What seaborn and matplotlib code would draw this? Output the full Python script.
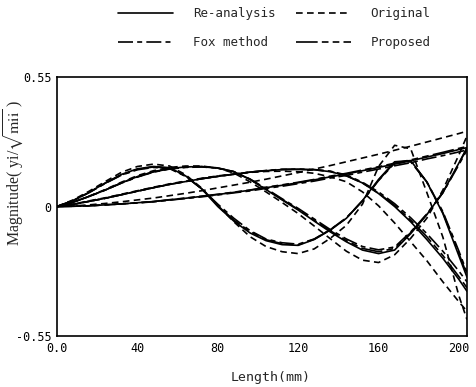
import numpy as np
import pandas as pd
import matplotlib
matplotlib.use("Agg")
import matplotlib.pyplot as plt
from matplotlib.lines import Line2D
import seaborn as sns

# Station positions along the beam (mm)
length = list(range(0, 201, 8)) + [204]

# Mode 1
m1_reanalysis = [0, .001, .003, .007, .011, .016, .021, .028, .035, .043, .051, .060, .069, .080, .090, .101, .113, .126, .138, .152, .166, .180, .194, .210, .225, .242, .250]
m1_original   = [0, .002, .007, .013, .020, .028, .036, .046, .056, .067, .079, .091, .103, .116, .130, .144, .159, .174, .190, .206, .222, .239, .256, .274, .292, .310, .320]
m1_fox        = [0, .001, .003, .007, .011, .015, .020, .027, .034, .041, .049, .058, .066, .077, .086, .097, .108, .121, .132, .146, .159, .173, .186, .202, .216, .232, .240]
m1_proposed   = [0, .001, .003, .007, .011, .016, .021, .029, .036, .044, .052, .061, .070, .082, .092, .103, .115, .129, .141, .155, .169, .184, .198, .214, .230, .247, .255]

# Mode 2
m2_reanalysis = [0, .009, .022, .035, .050, .065, .080, .094, .106, .118, .128, .137, .146, .152, .157, .158, .156, .148, .130, .100, .055, .000, -.065, -.140, -.220, -.310, -.360]
m2_original   = [0, .010, .024, .037, .052, .067, .082, .096, .108, .120, .130, .138, .145, .149, .150, .148, .141, .126, .105, .062, .003, -.070, -.150, -.230, -.320, -.405, -.445]
m2_fox        = [0, .009, .022, .035, .050, .065, .080, .094, .106, .118, .128, .137, .146, .153, .158, .159, .157, .150, .134, .103, .062, .012, -.048, -.115, -.190, -.275, -.320]
m2_proposed   = [0, .009, .022, .035, .050, .065, .080, .094, .106, .118, .128, .137, .146, .152, .157, .158, .156, .149, .131, .100, .057, .005, -.058, -.128, -.208, -.298, -.345]

# Mode 3
m3_reanalysis = [0, .018, .043, .070, .100, .127, .148, .161, .168, .170, .164, .148, .115, .072, .028, -.015, -.062, -.108, -.150, -.185, -.200, -.185, -.115, -.035, .060, .185, .250]
m3_original   = [0, .018, .044, .072, .103, .131, .152, .166, .172, .172, .163, .142, .105, .062, .017, -.030, -.083, -.137, -.190, -.228, -.238, -.205, -.135, -.050, .070, .220, .300]
m3_fox        = [0, .018, .043, .070, .099, .125, .146, .159, .166, .168, .163, .148, .117, .076, .033, -.008, -.053, -.098, -.138, -.170, -.184, -.172, -.108, -.032, .058, .178, .240]
m3_proposed   = [0, .018, .043, .070, .100, .126, .147, .160, .167, .169, .163, .148, .116, .074, .030, -.012, -.058, -.103, -.145, -.178, -.192, -.178, -.111, -.033, .059, .182, .248]

# Mode 4
m4_reanalysis = [0, .025, .060, .100, .136, .160, .170, .165, .130, .075, .000, -.062, -.112, -.145, -.162, -.165, -.140, -.100, -.050, .025, .115, .190, .195, .105, -.030, -.210, -.300]
m4_original   = [0, .028, .065, .106, .145, .170, .180, .172, .135, .078, .005, -.065, -.128, -.170, -.192, -.200, -.180, -.135, -.080, .010, .170, .260, .245, .060, -.130, -.380, -.480]
m4_fox        = [0, .025, .059, .098, .133, .156, .166, .161, .128, .075, .010, -.050, -.102, -.138, -.154, -.160, -.138, -.098, -.048, .024, .110, .184, .190, .105, -.022, -.190, -.280]
m4_proposed   = [0, .025, .060, .099, .134, .158, .168, .163, .129, .075, .005, -.058, -.106, -.141, -.158, -.163, -.139, -.099, -.049, .024, .112, .187, .192, .104, -.026, -.200, -.290]

methods = ["Re-analysis", "Original", "Fox method", "Proposed"]
modes = {
    "mode 1": [m1_reanalysis, m1_original, m1_fox, m1_proposed],
    "mode 2": [m2_reanalysis, m2_original, m2_fox, m2_proposed],
    "mode 3": [m3_reanalysis, m3_original, m3_fox, m3_proposed],
    "mode 4": [m4_reanalysis, m4_original, m4_fox, m4_proposed],
}

rows = []
for mode, series in modes.items():
    for method, vals in zip(methods, series):
        assert len(vals) == len(length)
        for xv, yv in zip(length, vals):
            rows.append({"x": xv, "y": yv, "method": method, "unit": f"{mode}-{method}"})
df = pd.DataFrame(rows)

sns.set_theme(style="white")
plt.rcParams["font.family"] = ["DejaVu Sans Mono"]
plt.rcParams["mathtext.fontset"] = "stix"

dash_map = {
    "Re-analysis": "",
    "Original": (4, 2.6),
    "Fox method": (9, 2.5, 3, 2.5),
    "Proposed": (13, 2.5, 4, 2.5, 4, 2.5),
}

fig = plt.figure(figsize=(4.77, 3.87), dpi=100)
ax = fig.add_axes([0.1195, 0.1318, 0.8595, 0.6692])

sns.lineplot(data=df, x="x", y="y", style="method", units="unit", estimator=None,
             dashes=dash_map, color="black", linewidth=1.2, sort=False,
             legend=False, ax=ax)

ax.set_xlim(0, 204)
ax.set_ylim(-0.55, 0.55)
ax.set_xticks([0, 40, 80, 120, 160, 200])
ax.set_xticklabels(["0.0", "40", "80", "120", "160", "200"])
ax.set_xticks(np.arange(20, 201, 40), minor=True)
ax.set_yticks([-0.55, 0, 0.55])
ax.set_yticklabels(["-0.55", "0", "0.55"])
ax.set_yticks([-0.275, 0.275], minor=True)
ax.tick_params(which="both", direction="in", length=3, width=1, colors="black",
               labelsize=8.5, pad=4)
ax.tick_params(which="minor", length=2)
for sp in ax.spines.values():
    sp.set_color("black")
    sp.set_linewidth(1.2)

ax.set_xlabel("Length(mm)", fontsize=9.5)
ax.xaxis.set_label_coords(0.52, -0.135)
ax.set_ylabel(r"Magnitude( yi/$\sqrt{\mathrm{mii}}$ )", fontsize=11.5,
              family=["Liberation Serif", "DejaVu Serif"])
ax.yaxis.set_label_coords(-0.075, 0.63)

# legend rows: Re-analysis / Original, then Fox method / Proposed
order = ["Re-analysis", "Fox method", "Original", "Proposed"]
handles = [Line2D([0], [0], color="black", lw=1.2,
                  linestyle="-" if dash_map[m] == "" else (0, dash_map[m]))
           for m in order]
fig.legend(handles, order, loc="upper center", bbox_to_anchor=(0.575, 1.01),
           ncol=2, frameon=False, fontsize=9, handlelength=4.4,
           handletextpad=1.6, columnspacing=1.6, labelspacing=1.25)

fig.savefig("out.png", dpi=100, facecolor="white")
